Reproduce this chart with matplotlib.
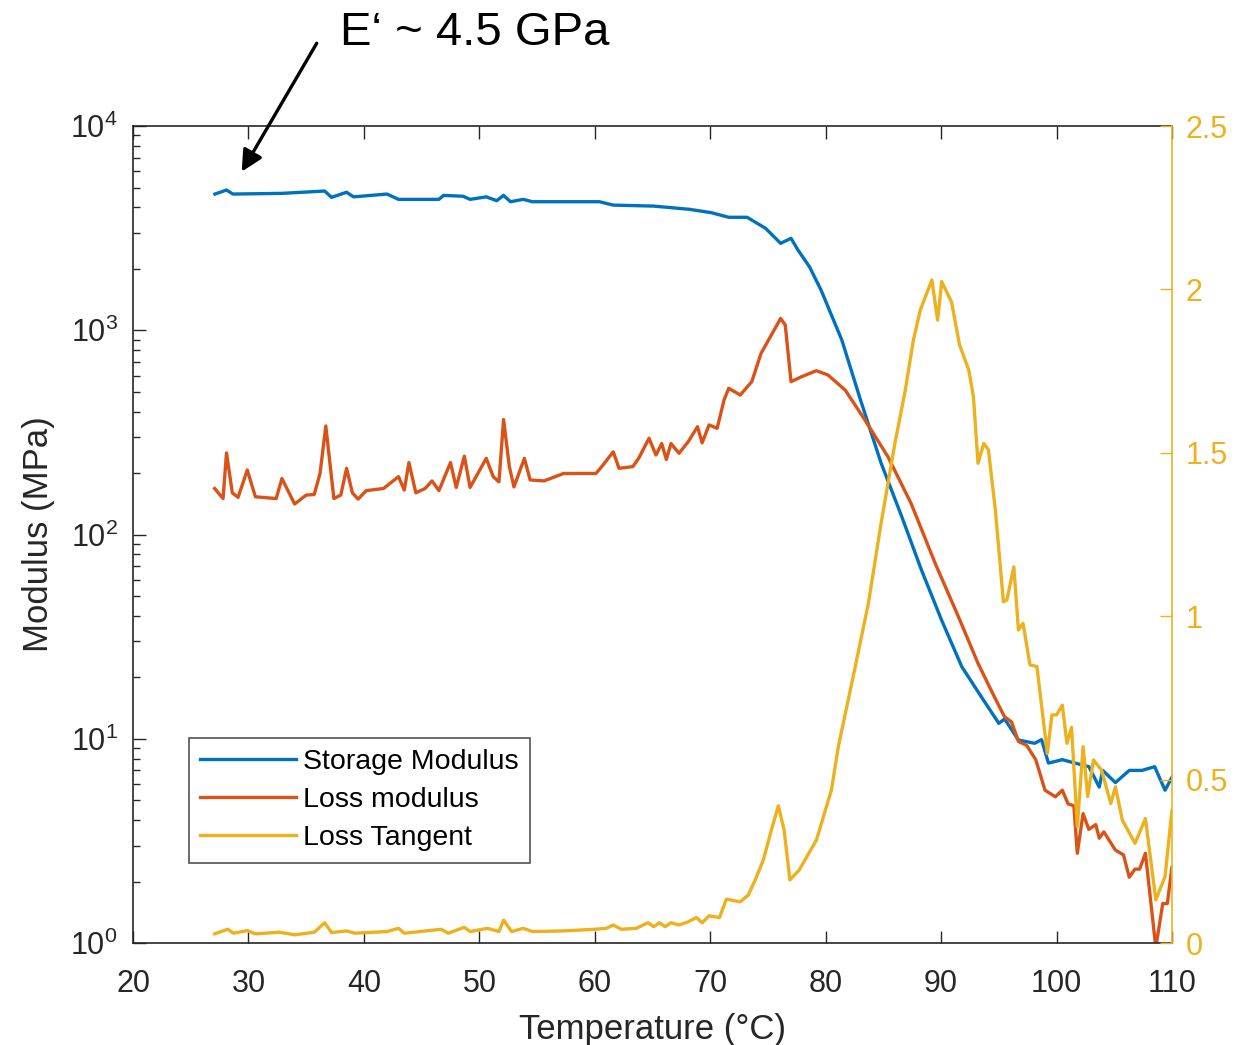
import numpy as np
import matplotlib
matplotlib.use('Agg')
import matplotlib.pyplot as plt

plt.rcParams['font.family'] = ['Liberation Sans', 'DejaVu Sans']
plt.rcParams['mathtext.fontset'] = 'custom'
plt.rcParams['mathtext.rm'] = 'Liberation Sans'
plt.rcParams['mathtext.default'] = 'regular'

# 储能模量 (MPa)
T_storage = [27.1, 28.1, 28.65, 32.9, 36.6, 37.2, 38.5, 39.1, 42.0, 43.0, 46.5, 46.9,
             48.6, 49.2, 50.6, 51.5, 52.1, 52.7, 53.8, 54.6, 60.4, 61.6, 65.1, 68.2,
             70.1, 71.6, 73.2, 74.8, 76.1, 77.0, 77.6, 78.6, 79.6, 81.4, 83.1, 84.8,
             86.6, 88.3, 90.05, 91.8, 93.5, 95.0, 95.5, 96.7, 98.1, 98.7, 99.3, 100.5,
             101.6, 102.8, 103.7, 104.0, 105.1, 106.3, 107.4, 108.5, 109.4, 110.2]
E_storage = [4645, 4860, 4645, 4680, 4805, 4475, 4740, 4500, 4645, 4375, 4375, 4575,
             4530, 4375, 4500, 4310, 4575, 4260, 4375, 4260, 4260, 4100, 4055, 3910,
             3765, 3574, 3574, 3155, 2665, 2820, 2472, 2046, 1574, 896, 441, 224,
             122, 67, 38, 22.5, 16, 11.9, 12.5, 9.86, 9.5, 9.9, 7.6, 7.9,
             7.6, 7.3, 5.8, 7.0, 6.1, 7.0, 7.0, 7.3, 5.6, 6.8]

# 损耗模量 (MPa)
T_loss = [27.07, 27.8, 28.1, 28.6, 29.1, 29.9, 30.6, 32.4, 32.9, 34.0, 35.0, 35.7,
          36.2, 36.7, 37.4, 38.0, 38.5, 39.0, 39.5, 40.2, 41.7, 43.0, 43.5, 43.9,
          44.5, 45.3, 45.9, 46.5, 47.5, 48.0, 48.7, 49.2, 50.6, 51.2, 51.7, 52.1,
          52.6, 53.0, 53.9, 54.4, 55.6, 57.3, 59.3, 60.1, 60.6, 61.6, 62.1, 63.3,
          63.8, 64.7, 65.3, 65.8, 66.2, 66.6, 67.3, 68.1, 68.9, 69.3, 69.9, 70.6,
          71.2, 71.6, 72.6, 73.6, 74.4, 76.1, 76.5, 77.0, 77.9, 79.2, 80.2, 81.7,
          83.4, 85.4, 87.4, 89.5, 91.5, 93.2, 94.6, 95.5, 96.1, 96.7, 97.4, 98.2,
          99.0, 99.9, 100.5, 101.0, 101.5, 101.8, 102.3, 102.8, 103.4, 103.7, 104.1, 105.1,
          105.8, 106.3, 106.8, 107.2, 107.7, 108.6, 109.2, 109.6, 110.0, 110.3]
E_loss = [168, 150, 251, 160, 152, 207, 153, 150, 188, 141, 156, 157,
          199, 340, 150, 156, 211, 160, 149, 164, 168, 192, 165, 225,
          160, 168, 183, 164, 225, 170, 242, 170, 236, 192, 181, 366,
          215, 171, 236, 185, 183, 199, 199, 199, 215, 254, 211, 215,
          236, 296, 245, 279, 233, 279, 250, 285, 337, 281, 344, 331,
          456, 520, 482, 560, 770, 1143, 1061, 560, 592, 634, 604, 509,
          364, 240, 142, 72, 39.6, 23.4, 16.1, 12.8, 12.1, 9.7, 9.3, 7.9,
          5.6, 5.2, 5.6, 4.8, 4.7, 2.75, 4.3, 3.6, 3.8, 3.26, 3.5, 2.85,
          2.7, 2.1, 2.3, 2.3, 2.75, 0.95, 1.56, 1.56, 2.36, 2.1]

# 损耗角正切
T_tan = [27.07, 28.2, 28.7, 29.9, 30.6, 32.7, 34.0, 35.7, 36.6, 37.2, 38.5, 39.2,
         42.0, 43.0, 43.5, 46.7, 47.3, 48.7, 49.2, 50.7, 51.7, 52.1, 52.8, 53.8,
         54.6, 57.3, 60.0, 61.0, 61.6, 62.3, 63.6, 64.6, 65.1, 65.6, 66.1, 66.6,
         67.3, 68.1, 68.8, 69.3, 69.9, 70.8, 71.4, 72.6, 73.3, 73.9, 74.6, 75.3,
         75.9, 76.4, 76.9, 77.7, 79.2, 80.5, 81.1, 82.5, 83.7, 84.8, 86.0, 86.9,
         87.6, 88.2, 89.2, 89.7, 90.05, 90.9, 91.6, 92.4, 92.8, 93.2, 93.7, 94.1,
         94.7, 95.4, 95.7, 96.3, 96.7, 97.1, 97.7, 98.3, 99.2, 99.6, 100.0, 100.5,
         100.9, 101.3, 101.8, 102.3, 102.7, 103.2, 103.9, 104.7, 105.1, 105.7, 106.8, 107.7,
         108.6, 109.4, 110.0, 110.3]
tan_delta = [0.028, 0.042, 0.030, 0.038, 0.028, 0.033, 0.025, 0.033, 0.062, 0.032, 0.037, 0.030,
             0.035, 0.045, 0.030, 0.042, 0.030, 0.048, 0.035, 0.045, 0.035, 0.070, 0.035, 0.045,
             0.035, 0.037, 0.042, 0.045, 0.055, 0.042, 0.045, 0.062, 0.050, 0.062, 0.050, 0.062,
             0.055, 0.065, 0.078, 0.062, 0.083, 0.078, 0.134, 0.126, 0.147, 0.193, 0.254, 0.346,
             0.420, 0.346, 0.193, 0.223, 0.315, 0.468, 0.601, 0.835, 1.039, 1.284, 1.529, 1.692,
             1.845, 1.937, 2.029, 1.906, 2.024, 1.962, 1.830, 1.753, 1.672, 1.468, 1.529, 1.509,
             1.325, 1.044, 1.050, 1.151, 0.958, 0.978, 0.851, 0.846, 0.580, 0.698, 0.698, 0.728,
             0.611, 0.660, 0.356, 0.601, 0.448, 0.560, 0.529, 0.427, 0.478, 0.376, 0.305, 0.381,
             0.132, 0.203, 0.407, 0.346]

x_ticks = [20, 30, 40, 50, 60, 70, 80, 90, 100, 110]
y_ticks = [1, 10, 100, 1000, 10000]
y_ticklabels = ['$10^{0}$', '$10^{1}$', '$10^{2}$', '$10^{3}$', '$10^{4}$']
y2_ticks = [0, 0.5, 1, 1.5, 2, 2.5]
y2_ticklabels = ['0', '0.5', '1', '1.5', '2', '2.5']

c_blue = '#0072BD'
c_orange = '#D95319'
c_yellow = '#EDB120'
c_axis = '#262626'

fig = plt.figure(figsize=(12.56, 10.45), dpi=100)
ax = fig.add_axes([0.1059, 0.0976, 0.8272, 0.7818])

l1, = ax.plot(T_storage, E_storage, color=c_blue, lw=2.4, label='Storage Modulus')
l2, = ax.plot(T_loss, E_loss, color=c_orange, lw=2.4, label='Loss modulus')
ax.set_yscale('log')
ax.set_xlim(20, 110)
ax.set_ylim(1, 1e4)
ax.set_xticks(x_ticks)
ax.set_yticks(y_ticks)
ax.set_yticklabels(y_ticklabels)
ax.tick_params(axis='both', which='major', direction='in', length=9, width=1,
               colors=c_axis, labelsize=22)
ax.tick_params(axis='x', top=True, pad=19)
ax.tick_params(axis='y', right=False, pad=11)
ax.tick_params(axis='y', which='minor', direction='in', length=5, width=1,
               colors=c_axis, right=False)
ax.spines['right'].set_visible(False)
for s in ['left', 'top', 'bottom']:
    ax.spines[s].set_color(c_axis)
    ax.spines[s].set_linewidth(1.2)
ax.set_xlabel('Temperature (°C)', fontsize=25, color=c_axis, labelpad=10)
ax.set_ylabel('Modulus (MPa)', fontsize=25, color=c_axis, labelpad=11)

ax2 = ax.twinx()
l3, = ax2.plot(T_tan, tan_delta, color=c_yellow, lw=2.4, label='Loss Tangent')
ax2.set_ylim(0, 2.5)
ax2.set_yticks(y2_ticks)
ax2.set_yticklabels(y2_ticklabels)
ax2.tick_params(axis='y', direction='in', length=9, width=1, colors=c_yellow,
                labelsize=22, pad=10)
for s in ['left', 'top', 'bottom']:
    ax2.spines[s].set_visible(False)
ax2.spines['right'].set_color(c_yellow)
ax2.spines['right'].set_linewidth(1.2)

leg = ax2.legend(handles=[l1, l2, l3], loc='lower left',
                 bbox_to_anchor=(0.0539, 0.0983), borderaxespad=0,
                 fontsize=20.5, frameon=True, fancybox=False,
                 handlelength=3.35, handletextpad=0.25, labelspacing=0.42,
                 borderpad=0.4)
leg.get_frame().set_edgecolor(c_axis)
leg.get_frame().set_linewidth(1.2)

fig.text(0.2707, 0.957, 'E‘ ~ 4.5 GPa', fontsize=34, color='black',
         ha='left', va='baseline')
ax.annotate('', xy=(241.7 / 1256, 1 - 171.7 / 1045), xycoords='figure fraction',
            xytext=(316.7 / 1256, 1 - 43.3 / 1045), textcoords='figure fraction',
            arrowprops=dict(arrowstyle='-|>', lw=2.4, color='black',
                            mutation_scale=32, shrinkA=0, shrinkB=0),
            annotation_clip=False)

plt.savefig('out.png', dpi=100)
